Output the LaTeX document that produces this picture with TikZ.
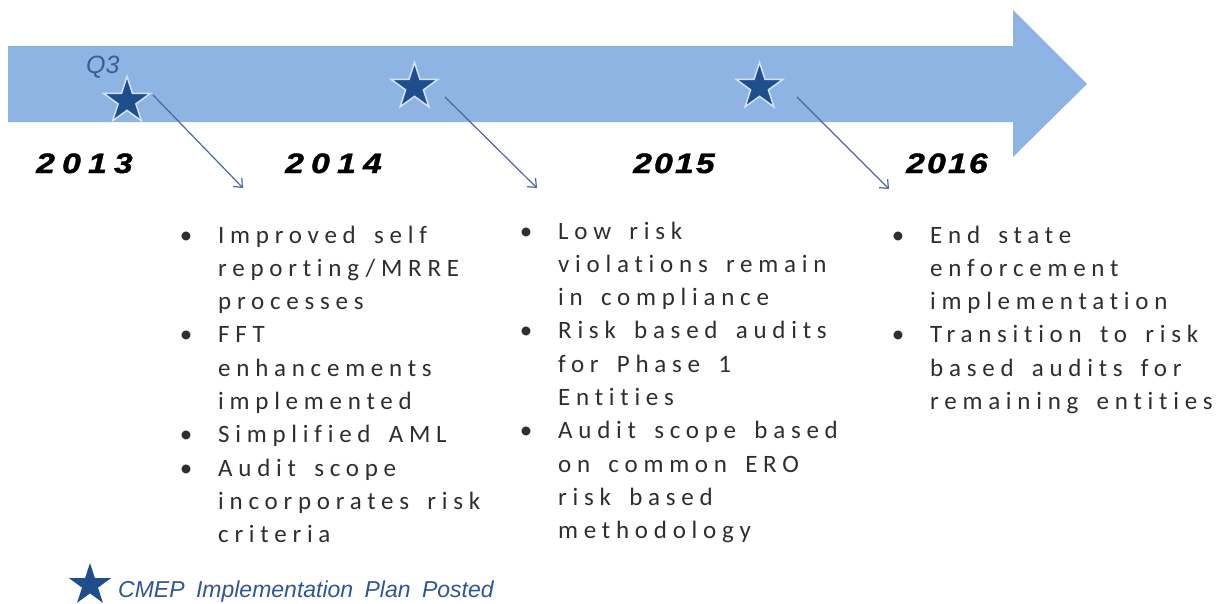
\documentclass[tikz,border=0pt]{standalone}
\usepackage{fontspec}
\setmainfont{Carlito}
\newfontfamily\bulletfont[LetterSpace=23,WordSpace=1.6,Ligatures={NoCommon}]{Carlito}
\newfontfamily\yearwide[LetterSpace=26,FakeStretch=1.2,FakeBold=1.5]{Liberation Sans}
\newfontfamily\yearnarrow[LetterSpace=8,FakeStretch=1.2,FakeBold=1.5]{Liberation Sans}
\newfontfamily\arialfont{Liberation Sans}
\usetikzlibrary{arrows.meta,shapes.geometric}
\definecolor{arrowblue}{HTML}{8EB4E3}
\definecolor{stardark}{HTML}{1F4E8C}
\definecolor{staredge}{HTML}{D3E2F4}
\definecolor{linecol}{HTML}{4C6895}
\definecolor{txtgray}{HTML}{2E2E2E}
\definecolor{qblue}{HTML}{3A5E92}
\definecolor{legendblue}{HTML}{2F5597}
\newcommand{\bl}{\llap{\hbox to 0pt{\hss\textbullet\hss}\hspace{32pt}}}
\tikzset{
  starmark/.style={star, star points=5, star point ratio=2.618, inner sep=0pt,
    fill=stardark, draw=staredge, line width=1.5pt, minimum size=49pt},
  yeartext/.style={anchor=base west, inner sep=0pt, text=black},
  pointer/.style={draw=linecol, line width=1.2pt, -{Straight Barb[length=7pt,width=12pt]}},
  bullets/.style={anchor=base west, inner sep=0pt, text=txtgray,
    font=\bulletfont\fontsize{25pt}{33.3pt}\selectfont},
}
\begin{document}
\begin{tikzpicture}[x=1pt,y=-1pt]
\useasboundingbox (0,0) rectangle (1223,603);
% big timeline arrow
\fill[arrowblue] (8,46) -- (1013,46) -- (1013,10) -- (1087,84) -- (1013,157)
  -- (1013,122) -- (8,122) -- cycle;
% Q3 label
\node[anchor=base west, inner sep=0pt, text=qblue,
  font=\arialfont\itshape\fontsize{25pt}{30pt}\selectfont] (q3) at (86,73) {Q3};
% stars
\node[starmark] (star1) at (127,101) {};
\node[starmark] (star2) at (414.5,87) {};
\node[starmark] (star3) at (759.5,87) {};
% years
\node[yeartext, font=\yearwide\bfseries\itshape\fontsize{28pt}{32pt}\selectfont] (y2013) at (36,173) {2013};
\node[yeartext, font=\yearwide\bfseries\itshape\fontsize{28pt}{32pt}\selectfont] (y2014) at (285,173) {2014};
\node[yeartext, font=\yearnarrow\bfseries\itshape\fontsize{28pt}{32pt}\selectfont] (y2015) at (633,173) {2015};
\node[yeartext, font=\yearnarrow\bfseries\itshape\fontsize{28pt}{32pt}\selectfont] (y2016) at (906,173) {2016};
% pointers
\coordinate (p1s) at (153,95);  \coordinate (p1e) at (243,188);
\coordinate (p2s) at (445,97);  \coordinate (p2e) at (537,188);
\coordinate (p3s) at (797,97);  \coordinate (p3e) at (889,189);
\draw[pointer] (p1s) -- (p1e);
\draw[pointer] (p2s) -- (p2e);
\draw[pointer] (p3s) -- (p3e);
% bullet columns
\node[bullets] (col1) at (218,243) {\vtop{\baselineskip=33.3pt
  \hbox{\bl Improved self}
  \hbox{reporting/MRRE}
  \hbox{processes}
  \hbox{\bl FFT}
  \hbox{enhancements}
  \hbox{implemented}
  \hbox{\bl Simplified AML}
  \hbox{\bl Audit scope}
  \hbox{incorporates risk}
  \hbox{criteria}}};
\node[bullets] (col2) at (558,239) {\vtop{\baselineskip=33.3pt
  \hbox{\bl Low risk}
  \hbox{violations remain}
  \hbox{in compliance}
  \hbox{\bl Risk based audits}
  \hbox{for Phase 1}
  \hbox{Entities}
  \hbox{\bl Audit scope based}
  \hbox{on common ERO}
  \hbox{risk based}
  \hbox{methodology}}};
\node[bullets] (col3) at (930,243) {\vtop{\baselineskip=33.3pt
  \hbox{\bl End state}
  \hbox{enforcement}
  \hbox{implementation}
  \hbox{\bl Transition to risk}
  \hbox{based audits for}
  \hbox{remaining entities}}};
% legend
\node[star, star points=5, star point ratio=2.618, inner sep=0pt, fill=stardark,
  minimum size=44pt] (legstar) at (90,585) {};
\node[anchor=base west, inner sep=0pt, text=legendblue,
  font=\arialfont\itshape\fontsize{23pt}{28pt}\selectfont] (legtext) at (118,597)
  {CMEP\hspace{5pt} Implementation\hspace{5pt} Plan\hspace{5pt} Posted};
\end{tikzpicture}
\end{document}
